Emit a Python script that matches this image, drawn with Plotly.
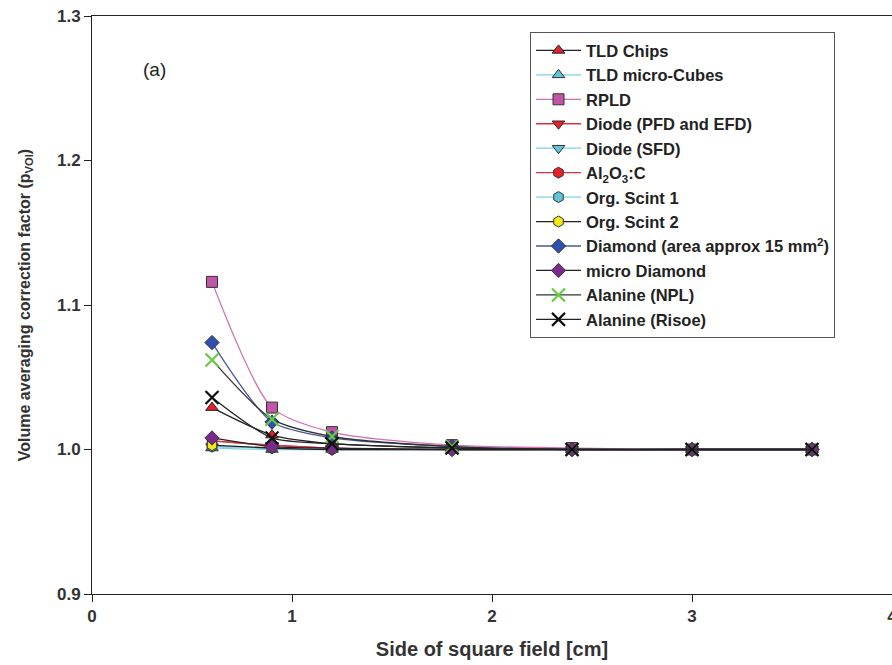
import plotly.graph_objects as go

x_field = [0.6, 0.9, 1.2, 1.8, 2.4, 3.0, 3.6]

names = [
    "TLD Chips", "TLD micro-Cubes", "RPLD", "Diode (PFD and EFD)", "Diode (SFD)",
    "Al<sub>2</sub>O<sub>3</sub>:C", "Org. Scint 1", "Org. Scint 2",
    "Diamond (area approx 15 mm<sup>2</sup>)", "micro Diamond", "Alanine (NPL)", "Alanine (Risoe)",
]

tld_chips = [1.029, 1.010, 1.004, 1.001, 1.000, 1.000, 1.000]
tld_micro = [1.001, 1.000, 1.000, 1.000, 1.000, 1.000, 1.000]
rpld = [1.116, 1.029, 1.012, 1.003, 1.001, 1.000, 1.000]
diode_pfd = [1.006, 1.003, 1.001, 1.000, 1.000, 1.000, 1.000]
diode_sfd = [1.002, 1.001, 1.000, 1.000, 1.000, 1.000, 1.000]
al2o3 = [1.006, 1.003, 1.001, 1.000, 1.000, 1.000, 1.000]
org1 = [1.002, 1.001, 1.000, 1.000, 1.000, 1.000, 1.000]
org2 = [1.003, 1.001, 1.000, 1.000, 1.000, 1.000, 1.000]
diamond = [1.074, 1.019, 1.008, 1.002, 1.000, 1.000, 1.000]
micro_diamond = [1.008, 1.002, 1.001, 1.000, 1.000, 1.000, 1.000]
alanine_npl = [1.062, 1.021, 1.009, 1.002, 1.000, 1.000, 1.000]
alanine_risoe = [1.036, 1.008, 1.004, 1.001, 1.000, 1.000, 1.000]

series = [tld_chips, tld_micro, rpld, diode_pfd, diode_sfd, al2o3, org1, org2,
          diamond, micro_diamond, alanine_npl, alanine_risoe]

styles = [
    dict(line="#222222", sym="triangle-up", fill="#e8202a", outline="#222222"),
    dict(line="#7fd0e6", sym="triangle-up", fill="#5ec4dc", outline="#333333"),
    dict(line="#d070b0", sym="square", fill="#c254a8", outline="#333333"),
    dict(line="#e03040", sym="triangle-down", fill="#e8202a", outline="#333333"),
    dict(line="#7fd0e6", sym="triangle-down", fill="#5ec4dc", outline="#333333"),
    dict(line="#e03040", sym="hexagon", fill="#e8202a", outline="#333333"),
    dict(line="#7fd0e6", sym="hexagon", fill="#5ec4dc", outline="#333333"),
    dict(line="#222222", sym="hexagon", fill="#f5e81a", outline="#333333"),
    dict(line="#4a5a9a", sym="diamond", fill="#3050b0", outline="#333333"),
    dict(line="#222222", sym="diamond", fill="#7a2a8a", outline="#333333"),
    dict(line="#333333", sym="x-thin", fill="#66cc44", outline="#66cc44"),
    dict(line="#222222", sym="x-thin", fill="#111111", outline="#111111"),
]

fig = go.Figure()
for name, vals, st in zip(names, series, styles):
    is_x = st["sym"].startswith("x")
    fig.add_trace(go.Scatter(
        x=x_field, y=vals, name=name, mode="lines+markers",
        line=dict(color=st["line"], width=1.3, shape="spline", smoothing=0.7),
        marker=dict(symbol=st["sym"], size=13 if is_x else 11, color=st["fill"],
                    line=dict(color=st["outline"], width=2.2 if is_x else 1)),
    ))

FAM = "Liberation Sans, Arial, sans-serif"
tick_font = dict(family=FAM, size=17, color="#333333", weight="bold")

fig.update_layout(
    width=892, height=665,
    margin=dict(l=92, r=0, t=16, b=71),
    paper_bgcolor="white", plot_bgcolor="white",
    showlegend=True,
    legend=dict(
        x=0.5475, y=0.972, xanchor="left", yanchor="top",
        bgcolor="white", bordercolor="#555555", borderwidth=1,
        font=dict(family=FAM, size=16.5, color="#222222", weight="bold"),
        tracegroupgap=0, itemwidth=45,
    ),
    xaxis=dict(
        range=[0, 4], tickvals=[0, 1, 2, 3, 4], ticktext=["0", "1", "2", "3", "4"],
        showgrid=False, zeroline=False, showline=True, linecolor="#222222", linewidth=1,
        mirror=True, ticks="outside", ticklen=7, tickcolor="#222222",
        tickfont=tick_font, automargin=False, ticklabeloverflow="allow",
        title=dict(text="Side of square field [cm]",
                   font=dict(family=FAM, size=20, color="#333333", weight="bold"), standoff=16),
    ),
    yaxis=dict(
        range=[0.9, 1.3], tickvals=[0.9, 1.0, 1.1, 1.2, 1.3], tickformat=".1f",
        showgrid=False, zeroline=False, showline=True, linecolor="#222222", linewidth=1,
        mirror=False, ticks="outside", ticklen=7, tickcolor="#222222",
        tickfont=tick_font, automargin=False,
        title=dict(text="Volume averaging correction factor (p<sub>VOl</sub>)",
                   font=dict(family=FAM, size=16, color="#333333", weight="bold"), standoff=22),
    ),
    annotations=[dict(
        text="(a)", x=0.31, y=1.263, xref="x", yref="y", showarrow=False,
        font=dict(family=FAM, size=19, color="#222222"),
    )],
)

fig.write_html("out.html")
